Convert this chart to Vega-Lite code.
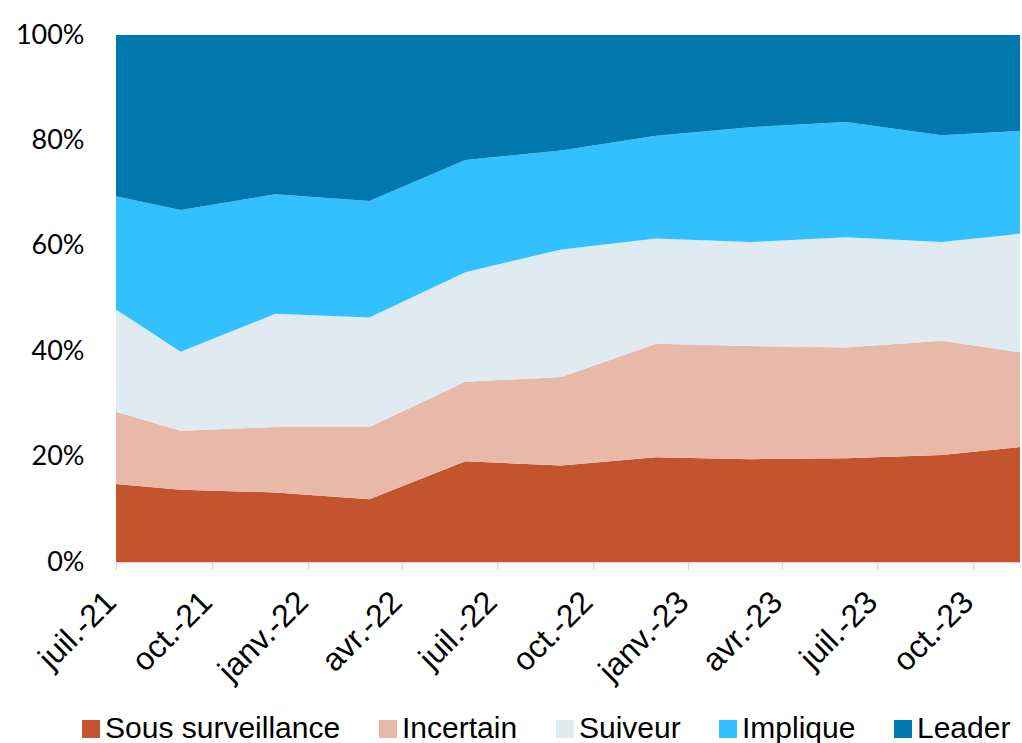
{
  "$schema": "https://vega.github.io/schema/vega-lite/v6.json",
  "width": 904,
  "height": 527,
  "autosize": {"type": "none"},
  "padding": {"left": 116, "top": 35, "right": 2, "bottom": 181},
  "background": "white",
  "config": {"view": {"stroke": null}},
  "data": {
    "values": [
      {"date": "2021-07-01", "serie": "Sous surveillance", "value": 14.8},
      {"date": "2021-07-01", "serie": "Incertain", "value": 13.7},
      {"date": "2021-07-01", "serie": "Suiveur", "value": 19.4},
      {"date": "2021-07-01", "serie": "Implique", "value": 21.5},
      {"date": "2021-07-01", "serie": "Leader", "value": 30.6},
      {"date": "2021-09-01", "serie": "Sous surveillance", "value": 13.7},
      {"date": "2021-09-01", "serie": "Incertain", "value": 11.2},
      {"date": "2021-09-01", "serie": "Suiveur", "value": 15.0},
      {"date": "2021-09-01", "serie": "Implique", "value": 26.9},
      {"date": "2021-09-01", "serie": "Leader", "value": 33.2},
      {"date": "2021-12-01", "serie": "Sous surveillance", "value": 13.2},
      {"date": "2021-12-01", "serie": "Incertain", "value": 12.4},
      {"date": "2021-12-01", "serie": "Suiveur", "value": 21.5},
      {"date": "2021-12-01", "serie": "Implique", "value": 22.7},
      {"date": "2021-12-01", "serie": "Leader", "value": 30.2},
      {"date": "2022-03-01", "serie": "Sous surveillance", "value": 11.9},
      {"date": "2022-03-01", "serie": "Incertain", "value": 13.7},
      {"date": "2022-03-01", "serie": "Suiveur", "value": 20.8},
      {"date": "2022-03-01", "serie": "Implique", "value": 22.1},
      {"date": "2022-03-01", "serie": "Leader", "value": 31.5},
      {"date": "2022-06-01", "serie": "Sous surveillance", "value": 19.1},
      {"date": "2022-06-01", "serie": "Incertain", "value": 15.1},
      {"date": "2022-06-01", "serie": "Suiveur", "value": 20.8},
      {"date": "2022-06-01", "serie": "Implique", "value": 21.3},
      {"date": "2022-06-01", "serie": "Leader", "value": 23.7},
      {"date": "2022-09-01", "serie": "Sous surveillance", "value": 18.3},
      {"date": "2022-09-01", "serie": "Incertain", "value": 16.8},
      {"date": "2022-09-01", "serie": "Suiveur", "value": 24.2},
      {"date": "2022-09-01", "serie": "Implique", "value": 18.8},
      {"date": "2022-09-01", "serie": "Leader", "value": 21.9},
      {"date": "2022-12-01", "serie": "Sous surveillance", "value": 19.9},
      {"date": "2022-12-01", "serie": "Incertain", "value": 21.5},
      {"date": "2022-12-01", "serie": "Suiveur", "value": 20.0},
      {"date": "2022-12-01", "serie": "Implique", "value": 19.5},
      {"date": "2022-12-01", "serie": "Leader", "value": 19.1},
      {"date": "2023-03-01", "serie": "Sous surveillance", "value": 19.5},
      {"date": "2023-03-01", "serie": "Incertain", "value": 21.5},
      {"date": "2023-03-01", "serie": "Suiveur", "value": 19.7},
      {"date": "2023-03-01", "serie": "Implique", "value": 21.8},
      {"date": "2023-03-01", "serie": "Leader", "value": 17.5},
      {"date": "2023-06-01", "serie": "Sous surveillance", "value": 19.7},
      {"date": "2023-06-01", "serie": "Incertain", "value": 21.0},
      {"date": "2023-06-01", "serie": "Suiveur", "value": 20.9},
      {"date": "2023-06-01", "serie": "Implique", "value": 21.9},
      {"date": "2023-06-01", "serie": "Leader", "value": 16.5},
      {"date": "2023-09-01", "serie": "Sous surveillance", "value": 20.3},
      {"date": "2023-09-01", "serie": "Incertain", "value": 21.7},
      {"date": "2023-09-01", "serie": "Suiveur", "value": 18.7},
      {"date": "2023-09-01", "serie": "Implique", "value": 20.3},
      {"date": "2023-09-01", "serie": "Leader", "value": 19.0},
      {"date": "2023-11-15", "serie": "Sous surveillance", "value": 21.8},
      {"date": "2023-11-15", "serie": "Incertain", "value": 18.0},
      {"date": "2023-11-15", "serie": "Suiveur", "value": 22.5},
      {"date": "2023-11-15", "serie": "Implique", "value": 19.5},
      {"date": "2023-11-15", "serie": "Leader", "value": 18.2}
    ]
  },
  "transform": [
    {"calculate": "indexof(['Sous surveillance','Incertain','Suiveur','Implique','Leader'], datum.serie)", "as": "k"}
  ],
  "mark": {"type": "area", "interpolate": "linear"},
  "encoding": {
    "x": {
      "field": "date",
      "type": "temporal",
      "scale": {
        "type": "utc",
        "nice": false,
        "domain": [
          {"year": 2021, "month": 7, "date": 1, "utc": true},
          {"year": 2023, "month": 11, "date": 15, "utc": true}
        ]
      },
      "axis": {
        "title": null,
        "grid": false,
        "tickCount": {"interval": "month", "step": 3},
        "labelExpr": "['janv.','févr.','mars','avr.','mai','juin','juil.','août','sept.','oct.','nov.','déc.'][utcmonth(datum.value)] + '-' + utcFormat(datum.value, '%y')",
        "labelAngle": -45,
        "labelAlign": "right",
        "labelBaseline": "top",
        "labelFont": "Liberation Sans",
        "labelFontSize": 32,
        "labelColor": "#000000",
        "labelPadding": 16,
        "labelOffset": -16,
        "labelFlush": false,
        "labelOverlap": false,
        "domainColor": "#d9d9d9",
        "domainWidth": 1.5,
        "tickColor": "#d9d9d9",
        "tickWidth": 1.5,
        "tickSize": 8
      }
    },
    "y": {
      "field": "value",
      "type": "quantitative",
      "stack": "normalize",
      "scale": {"domain": [0, 1]},
      "axis": {
        "title": null,
        "grid": false,
        "domain": false,
        "ticks": false,
        "values": [0, 0.2, 0.4, 0.6, 0.8, 1],
        "format": ".0%",
        "labelFont": "Lato",
        "labelFontSize": 27,
        "labelColor": "#000000",
        "labelPadding": 32
      }
    },
    "color": {
      "field": "serie",
      "type": "nominal",
      "scale": {
        "domain": ["Sous surveillance", "Incertain", "Suiveur", "Implique", "Leader"],
        "range": ["#C45330", "#E8B9A9", "#DFEAF1", "#33C0FF", "#0078AE"]
      },
      "legend": {
        "title": null,
        "orient": "none",
        "direction": "horizontal",
        "columns": 5,
        "legendX": -40,
        "legendY": 679,
        "padding": 0,
        "symbolType": "square",
        "symbolSize": 324,
        "symbolStrokeWidth": 0,
        "symbolOpacity": 1,
        "labelFont": "Liberation Sans",
        "labelFontSize": 30,
        "labelColor": "#000000",
        "labelOffset": -1,
        "columnPadding": 32,
        "labelLimit": 400
      }
    },
    "order": {"field": "k", "type": "quantitative"}
  }
}
